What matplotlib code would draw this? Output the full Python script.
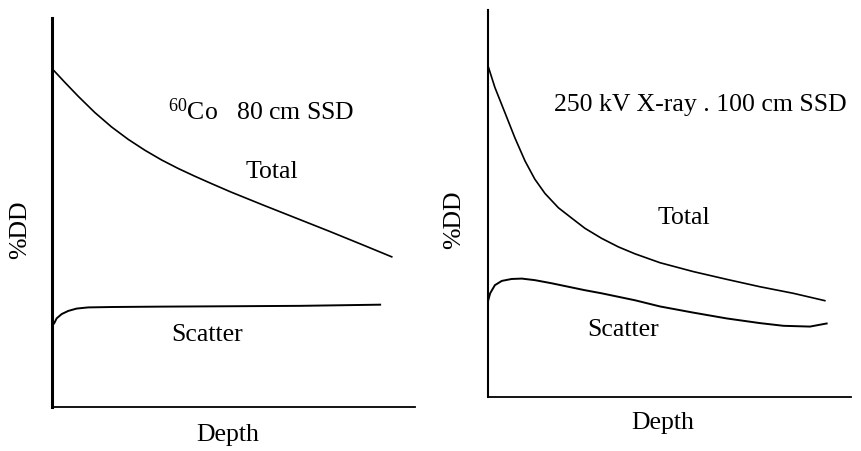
import matplotlib
matplotlib.use("Agg")
import matplotlib.pyplot as plt

plt.rcParams["font.family"] = ["Liberation Serif", "DejaVu Serif"]
plt.rcParams["mathtext.fontset"] = "custom"
plt.rcParams["mathtext.rm"] = "Liberation Serif"
plt.rcParams["mathtext.default"] = "regular"

# Co-60, 80 cm SSD (depth in arbitrary units 0-10, %DD 0-100)
co_total_depth = [0.04, 0.36, 0.72, 1.18, 1.64, 2.10, 2.56, 3.02, 3.48, 3.94, 4.40,
                  4.92, 5.82, 6.74, 7.66, 8.58, 9.36]
co_total_dd = [86.6, 83.4, 79.9, 75.7, 72.0, 68.8, 66.0, 63.5, 61.3, 59.3, 57.4,
               55.3, 51.9, 48.5, 45.1, 41.6, 38.6]
co_scatter_depth = [0.06, 0.13, 0.27, 0.45, 0.68, 1.00, 1.64, 3.02, 4.99, 6.83, 9.04]
co_scatter_dd = [21.5, 22.8, 23.9, 24.7, 25.3, 25.6, 25.7, 25.8, 25.9, 26.0, 26.3]

# 250 kV X-ray, 100 cm SSD
xr_total_depth = [0.01, 0.19, 0.47, 0.74, 1.02, 1.29, 1.57, 1.94, 2.31, 2.67, 3.13,
                  3.59, 4.05, 4.74, 5.66, 6.58, 7.49, 8.41, 9.28]
xr_total_dd = [85.3, 80.0, 73.4, 67.0, 61.0, 56.3, 52.6, 48.9, 46.2, 43.6, 41.0,
               38.8, 37.0, 34.7, 32.4, 30.4, 28.5, 26.8, 24.9]
xr_scatter_depth = [0.01, 0.06, 0.19, 0.38, 0.65, 0.93, 1.29, 1.75, 2.21, 2.67, 3.13,
                    3.59, 4.05, 4.74, 5.66, 6.58, 7.49, 8.14, 8.87, 9.33]
xr_scatter_dd = [25.1, 26.8, 28.9, 30.0, 30.5, 30.6, 30.2, 29.4, 28.5, 27.6, 26.8,
                 25.9, 25.0, 23.4, 21.8, 20.3, 19.1, 18.4, 18.2, 19.0]

FS = 18.5


def draw_panel(ax, total, scatter, title, title_pos, total_pos, scatter_pos,
               depth_pos, dd_pos, left_lw):
    ax.plot(total[0], total[1], color="black", linewidth=1.2, solid_joinstyle="round")
    ax.plot(scatter[0], scatter[1], color="black", linewidth=1.4, solid_joinstyle="round")
    ax.set_xlim(0, 10)
    ax.set_ylim(0, 100)
    for s in ["top", "right"]:
        ax.spines[s].set_visible(False)
    ax.spines["left"].set_linewidth(left_lw)
    ax.spines["bottom"].set_linewidth(1.3)
    ax.set_xticks([])
    ax.set_yticks([])
    ax.text(title_pos[0], title_pos[1], title, fontsize=FS, ha="left", va="center")
    ax.text(total_pos[0], total_pos[1], "Total", fontsize=FS, ha="center", va="center")
    ax.text(scatter_pos[0], scatter_pos[1], "Scatter", fontsize=FS, ha="center", va="center")
    ax.text(depth_pos[0], depth_pos[1], "Depth", fontsize=FS, ha="center", va="center",
            clip_on=False)
    ax.text(dd_pos[0], dd_pos[1], "%DD", fontsize=FS, ha="center", va="center",
            rotation=90, clip_on=False)


fig = plt.figure(figsize=(8.62, 4.51), dpi=100)
ax1 = fig.add_axes([0.0603, 0.0976, 0.4211, 0.8625])
ax2 = fig.add_axes([0.5661, 0.1197, 0.4211, 0.8581])

draw_panel(ax1, (co_total_depth, co_total_dd), (co_scatter_depth, co_scatter_dd),
           r"$^{60}$Co   80 cm SSD", (3.20, 75.8), (6.06, 60.4), (4.27, 18.5),
           (4.85, -7.2), (-0.88, 45.5), 2.2)
draw_panel(ax2, (xr_total_depth, xr_total_dd), (xr_scatter_depth, xr_scatter_dd),
           "250 kV X-ray . 100 cm SSD", (1.82, 75.5), (5.40, 46.3), (3.72, 17.3),
           (4.82, -6.7), (-0.94, 45.7), 1.5)

fig.savefig("out.png", dpi=100)
